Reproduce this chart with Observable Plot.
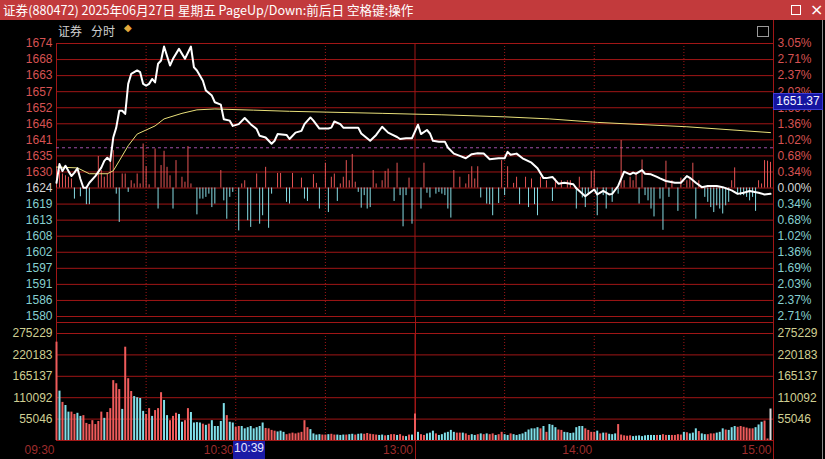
<!DOCTYPE html>
<html><head><meta charset="utf-8">
<script src="https://cdn.jsdelivr.net/npm/d3@7"></script>
<script src="https://cdn.jsdelivr.net/npm/@observablehq/plot@0.6"></script>
<style>
html,body{margin:0;padding:0;background:#000;}
#wrap{position:relative;width:825px;height:459px;overflow:hidden;background:#000;}
#wrap svg{position:absolute;left:0;}
.ab{position:absolute;white-space:nowrap;}
</style></head><body>
<div id="wrap"></div>
<script>
// ---------------- data ----------------
const titleText = "证券(880472) 2025年06月27日 星期五 PageUp/Down:前后日 空格键:操作";
const subTabs = ["证券", "分时"];
const prevClose = 1624.4;
const gridStepPct = 0.3389;
const gridSteps = [9,8,7,6,5,4,3,2,1,0,-1,-2,-3,-4,-5,-6,-7,-8];
const priceTickLabels = ["1674","1668","1663","1657","1652","1646","1641","1635","1630","1624","1619","1613","1608","1602","1597","1591","1586","1580"];
const pctTickLabels = ["3.05%","2.71%","2.37%","2.03%","1.69%","1.36%","1.02%","0.68%","0.34%","0.00%","0.34%","0.68%","1.02%","1.36%","1.69%","2.03%","2.37%","2.71%"];
const volTicks = [55046,110092,165137,220183,275229];
const timeTicks = [0,60,120,180,240];
const timeLabels = ["09:30","10:30","13:00","14:00","15:00"];
const halfHourMinutes = [30,60,90,150,180,210];
const sessionBreaks = [0,120,240];
const refLevel = 1638.2;
const cursorMinute = 69, cursorTimeLabel = "10:39", cursorPrice = 1651.37;

const priceMin = [0,1,2,3,4,5,6,7,8,9,10,11,13,15,16,17,18,19,20,21,22,23,24,25,27,28,29,30,31,32,33,34,35,36,38,39,41,43,45,46,47,49,50,52,53,55,56,58,59,61,63,65,67,68,70,72,73,74,77,78,80,82,83,85,86,88,91,92,93,95,96,99,101,102,105,107,109,111,112,114,115,117,119,121,122,124,125,126,128,130,131,133,135,137,139,141,143,145,148,150,151,152,154,156,159,161,163,164,166,168,170,173,174,177,178,180,181,183,185,186,188,190,192,193,194,196,197,199,201,202,204,207,209,211,212,214,216,218,221,223,226,228,230,232,235,237,239];
const priceVal = [1626.2,1632.6,1630.2,1632.0,1630.2,1628.5,1629.7,1631.2,1627.5,1624.5,1624.5,1626.2,1628.5,1631.4,1633.7,1634.8,1633.7,1641.7,1645.1,1650.9,1650.9,1649.8,1660.1,1663.5,1664.7,1664.1,1660.1,1659.5,1660.1,1661.8,1660.6,1667.0,1668.1,1672.9,1666.4,1668.7,1672.1,1668.7,1672.9,1665.8,1664.7,1661.2,1657.8,1656.1,1653.8,1653.0,1648.0,1647.5,1645.7,1646.3,1648.4,1646.3,1644.6,1642.3,1641.7,1639.6,1640.6,1642.9,1642.6,1641.2,1643.4,1644.0,1646.3,1648.6,1647.5,1644.8,1644.8,1645.1,1647.2,1646.3,1645.1,1645.1,1645.1,1643.1,1640.6,1642.6,1645.4,1643.4,1642.9,1641.9,1641.2,1641.5,1641.5,1646.1,1642.9,1644.3,1643.1,1640.6,1640.3,1640.3,1638.3,1636.2,1635.4,1634.6,1636.0,1636.3,1636.2,1634.3,1634.6,1634.6,1636.8,1635.8,1636.2,1634.6,1633.1,1631.2,1627.8,1627.8,1628.2,1625.9,1626.2,1625.7,1624.3,1621.6,1622.4,1623.9,1622.2,1623.4,1622.2,1622.4,1625.1,1630.0,1629.1,1629.7,1629.3,1630.5,1629.3,1629.1,1628.2,1627.7,1626.8,1626.2,1626.2,1628.5,1627.9,1626.2,1624.7,1625.1,1625.1,1624.7,1623.6,1622.4,1622.8,1623.4,1622.8,1622.2,1622.4];

const avgMin = [0,7,11,17,19,21,24,27,33,36,42,47,53,66,78,109,129,150,165,181,211,239];
const avgVal = [1631.6,1631.3,1629.3,1629.3,1630.3,1633.7,1638.9,1642.9,1645.7,1648.1,1650.0,1651.2,1651.5,1651.1,1650.7,1650.0,1649.5,1648.8,1648.1,1646.9,1645.4,1643.4];

const strengthMin = [0,1,2,3,4,5,6,8,10,11,14,15,16,17,18,19,20,21,22,23,24,25,26,27,28,29,30,31,33,34,35,36,37,38,39,40,42,43,44,45,47,48,49,50,51,52,53,55,56,57,58,59,61,62,63,64,65,67,68,69,70,71,72,74,75,77,78,79,82,83,84,86,87,88,90,91,92,93,94,95,96,97,98,99,100,101,102,103,104,105,106,107,109,110,111,113,114,115,116,117,118,119,122,123,124,125,127,128,129,130,131,132,133,135,137,138,139,140,141,142,144,145,146,148,149,150,151,153,154,155,157,158,159,160,161,162,164,166,167,169,171,172,174,175,176,177,178,179,180,181,183,184,186,188,189,190,192,193,194,195,196,197,198,199,200,202,203,204,205,206,208,209,211,212,213,214,215,217,218,219,220,221,222,223,224,225,226,227,228,229,230,231,232,233,234,235,236,237,238,239];
const strengthVal = [7.1,6.0,4.8,4.2,3.7,3.1,-3.8,-3.0,-5.7,-5.7,10.8,6.0,3.7,4.8,10.8,12.8,-2.1,-11.8,4.8,4.8,-1.5,2.5,1.4,4.8,1.4,15.1,7.3,1.1,13.4,-7.2,7.7,12.6,7.1,4.2,-7.2,9.4,3.7,2.0,14.2,1.4,-9.2,-3.8,-3.8,-3.2,-2.1,-6.7,-5.5,6.0,-4.4,-10.7,-3.2,-1.5,-14.7,1.4,2.5,-11.2,-13.5,4.8,-12.4,-9.5,7.1,-13.8,-2.1,5.0,5.0,-4.9,-5.5,5.0,3.4,-3.8,-4.6,4.6,1.6,-7.2,8.5,-8.4,3.7,4.8,-4.6,1.4,3.7,9.4,2.5,11.5,2.0,-1.5,-6.9,-2.6,-7.2,-6.7,6.0,1.4,2.5,5.7,6.5,-4.6,8.5,-2.6,-13.3,-2.6,3.4,-12.4,-7.2,8.5,-1.8,-3.4,-2.1,-1.5,-2.1,-2.6,-7.2,-10.3,6.0,3.7,1.4,4.6,7.3,3.1,7.3,-3.4,-5.5,-5.7,-9.5,-5.3,9.4,-2.6,7.3,1.6,3.7,-5.7,3.7,-6.7,3.1,-5.7,-9.5,3.7,2.5,-4.6,3.1,2.5,2.5,2.5,-7.2,3.7,-3.4,-6.7,-2.1,5.7,6.0,-9.5,-2.6,-7.2,-4.9,-2.1,16.3,2.5,3.7,2.5,4.8,-5.5,9.6,-2.6,-4.4,-7.2,-9.9,-3.8,-14.5,9.2,-3.2,2.5,-8.0,3.4,2.5,3.1,8.5,-10.7,2.5,-3.2,-4.9,-6.7,-8.4,-6.1,-7.2,-8.9,-6.1,-4.9,2.5,6.9,-2.3,-2.6,-2.6,-3.2,-4.4,-3.2,-8.0,2.5,1.4,9.4,9.2,8.8];

// volume per minute (thousands), minute = index
const volK = [253,127,98,90,73,73,67,70,62,64, 44,41,51,41,49,73,57,72,82,154, 146,131,80,240,159,126,113,110,108,75, 67,82,62,77,82,123,103,64,51,62, 70,67,47,51,82,72,45,46,45,42, 39,42,51,36,36,49,95,64,47,45, 34,36,36,30,33,36,30,33,36,45, 31,30,26,24,22,24,21,15,17,19, 17,19,21,51,33,28,17,14,15,14, 14,15,16,14,14,13,14,14,15,16, 14,16,17,16,18,16,15,14,13,14, 12,13,15,15,13,15,11,10,14,14, 68,21,15,13,17,19,24,17,13,15, 19,21,26,21,19,19,19,17,13,15, 13,15,17,15,17,15,17,13,15,21, 15,13,17,15,13,15,17,21,27,30, 30,33,30,36,21,41,39,33,27,26, 21,20,18,19,33,36,36,30,26,21, 21,24,17,19,19,16,15,17,41,14, 12,11,12,10,11,12,10,12,13,13, 13,13,13,15,13,13,13,13,15,14, 21,20,17,19,30,23,17,15,15,17, 17,19,21,30,27,26,33,36,34,36, 34,32,30,30,33,40,47,50,4,81];
const volDir = "rcrccrrccr"+"rrrrrrcrrr"+"rrcrrrcccc"+"rrcrrrccrr"+"rccrrccccr"+"crcccccrcc"+"rrcccccccc"+"rrrrcccrrr"+"rrrrrccccr"+"rcrrcccrcc"+"rccrrrrrcc"+"rcrrcrrcrc"+"rcrrcccrcc"+"ccccrrcrrc"+"crcrcrrcrr"+"ccrccccccc"+"ccrcrcccrr"+"cccccccrrr"+"rcrcrcccrr"+"rrrccccccc"+"crcrrcrrrr"+"crcccrccrr"+"rcccrcccrr"+"rrrrcccrrw";

// ---------------- styling ----------------
const GRID = "#a01616";
const RED_TXT = "#d65252", CYAN_TXT = "#86cfcf", WHITE_TXT = "#d4d4d4", VOL_TXT = "#cfcf92", TIME_TXT = "#9c2c2c";
const BAR_RED = "#e45454", BAR_CYAN = "#86dbe3";
const VOL_COL = {r: "#ef5b5b", c: "#80e0ea", w: "#dcdcdc"};
const AVG = "#e9e07a";
const FONT = "'Liberation Sans', Arial, sans-serif";

const price = priceMin.map((m, i) => ({m, p: priceVal[i]}));
const avg = avgMin.map((m, i) => ({m, p: avgVal[i]}));
const strength = strengthMin.map((m, i) => ({m, v: strengthVal[i]}));
const vol = volK.map((v, m) => ({m, v: v * 1000, d: volDir[m]}));
const gridRows = gridSteps.map((k, i) => ({k, p: prevClose * (1 + k * gridStepPct / 100), label: priceTickLabels[i], pct: pctTickLabels[i]}));
const txtColor = k => k > 0 ? RED_TXT : (k < 0 ? CYAN_TXT : WHITE_TXT);

const wrap = document.getElementById("wrap");
function box(style, text) {
  const d = document.createElement("div");
  d.className = "ab";
  d.style.cssText = style;
  if (text != null) d.textContent = text;
  wrap.appendChild(d);
  return d;
}

const W = 825, ML = 56, MR = 52;
const xPix = d3.scaleLinear([0, 240], [ML, W - MR]);

// frame extensions (behind plots)
box(`left:${W-MR}px;top:20px;width:1px;height:439px;background:${GRID}`);
box(`left:${Math.round(xPix(120))}px;top:316px;width:1px;height:143px;background:${GRID}`);
box(`left:${ML}px;top:316px;width:1px;height:18px;background:${GRID}`);
box(`left:${ML}px;top:322px;width:${W-MR-ML}px;height:1px;background:${GRID}`);
box(`right:2px;top:20px;width:1px;height:439px;background:#8a8a8a`);

// ---------------- price panel ----------------
const PH = 322, PMT = 43, PMB = 6;
const yDom = [gridRows[gridRows.length - 1].p, gridRows[0].p];
const pricePlot = Plot.plot({
  width: W, height: PH, marginTop: PMT, marginBottom: PMB, marginLeft: ML, marginRight: MR,
  x: {domain: [0, 240], axis: null},
  y: {domain: yDom, axis: null},
  color: {type: "identity"},
  style: {background: "transparent", fontFamily: FONT, fontSize: "12px", overflow: "visible"},
  marks: [
    Plot.ruleY(gridRows, {y: "p", stroke: GRID}),
    Plot.ruleX(halfHourMinutes, {x: d => d, stroke: GRID, strokeDasharray: "1,2"}),
    Plot.ruleX(sessionBreaks, {x: d => d, stroke: GRID}),
    Plot.ruleY([refLevel], {y: d => d, stroke: "#a050a8", strokeDasharray: "3,3"}),
    Plot.ruleX(strength, {x: "m", y1: () => prevClose, y2: d => prevClose + d.v, stroke: d => d.v > 0 ? BAR_RED : BAR_CYAN, strokeWidth: 1}),
    Plot.line(avg, {x: "m", y: "p", stroke: AVG, strokeWidth: 1}),
    Plot.line(price, {x: "m", y: "p", stroke: "#ffffff", strokeWidth: 2}),
    Plot.text(gridRows, {y: "p", text: "label", frameAnchor: "left", dx: -4, textAnchor: "end", fill: d => txtColor(d.k), fontSize: 12}),
    Plot.text(gridRows, {y: "p", text: "pct", frameAnchor: "right", dx: 4, textAnchor: "start", fill: d => txtColor(d.k), fontSize: 12})
  ]
});
pricePlot.style.top = "0px";
wrap.appendChild(pricePlot);

// ---------------- volume panel ----------------
const VTOP = 322, VH = 137, VMT = 11, VMB = 19;
const volPlot = Plot.plot({
  width: W, height: VH, marginTop: VMT, marginBottom: VMB, marginLeft: ML, marginRight: MR,
  x: {domain: [0, 240], axis: null},
  y: {domain: [0, volTicks[volTicks.length - 1]], axis: null},
  color: {type: "identity"},
  style: {background: "transparent", fontFamily: FONT, fontSize: "12px", overflow: "visible"},
  marks: [
    Plot.ruleY([0, ...volTicks], {y: d => d, stroke: GRID}),
    Plot.ruleX(halfHourMinutes, {x: d => d, stroke: GRID, strokeDasharray: "1,2"}),
    Plot.ruleX(sessionBreaks, {x: d => d, stroke: GRID}),
    Plot.ruleX(vol, {x: "m", y1: () => 0, y2: "v", stroke: d => VOL_COL[d.d], strokeWidth: 2}),
    Plot.text(volTicks, {y: d => d, text: d => String(d), frameAnchor: "left", dx: -4, textAnchor: "end", fill: VOL_TXT, fontSize: 12}),
    Plot.text(volTicks, {y: d => d, text: d => String(d), frameAnchor: "right", dx: 4, textAnchor: "start", fill: VOL_TXT, fontSize: 12}),
    Plot.text(timeTicks, {x: d => d, y: () => 0, text: (d, i) => timeLabels[i], dy: 10, dx: -2, textAnchor: "end", fill: TIME_TXT, fontSize: 12})
  ]
});
volPlot.style.top = VTOP + "px";
wrap.appendChild(volPlot);

// ---------------- header / overlays ----------------
box(`left:0;top:0;width:${W}px;height:20px;background:#c23a3c`);
box(`left:3px;top:0;height:20px;line-height:20px;color:#fff;font:12.6px 'Noto Sans CJK SC',sans-serif;`, titleText);
box(`left:791px;top:5px;width:8px;height:8px;border:1px solid #fff`);
box(`left:810px;top:0;height:20px;line-height:19px;color:#fff;font:16px 'DejaVu Sans',sans-serif;`, "×");
box(`left:58px;top:22px;height:18px;line-height:18px;color:#cfcfcf;font:12px 'Noto Sans CJK SC',sans-serif;`, subTabs[0]);
box(`left:91px;top:22px;height:18px;line-height:18px;color:#cfcfcf;font:12px 'Noto Sans CJK SC',sans-serif;`, subTabs[1]);
box(`left:124px;top:22px;height:18px;line-height:18px;color:#e2a93c;font:10px 'DejaVu Sans',sans-serif;`, "◆");
box(`left:757px;top:26px;width:10px;height:9px;border:1px solid #9a9a9a`);

// cursor labels
const yPix = d3.scaleLinear(yDom, [PH - PMB, PMT]);
const cy = yPix(cursorPrice);
box(`left:${W-MR}px;top:${Math.round(cy-16)}px;width:48px;height:15px;line-height:15px;background:#1414a0;border:1px solid #3d3dd6;color:#f2f2ff;font:12px ${FONT};text-align:center`, cursorPrice.toFixed(2));
const cx = xPix(cursorMinute);
box(`left:${Math.round(cx-29)}px;top:441px;width:32px;height:18px;line-height:18px;background:#1a1aa6;color:#e8e8ff;font:12px ${FONT};text-align:center`, cursorTimeLabel);
</script>
</body></html>
